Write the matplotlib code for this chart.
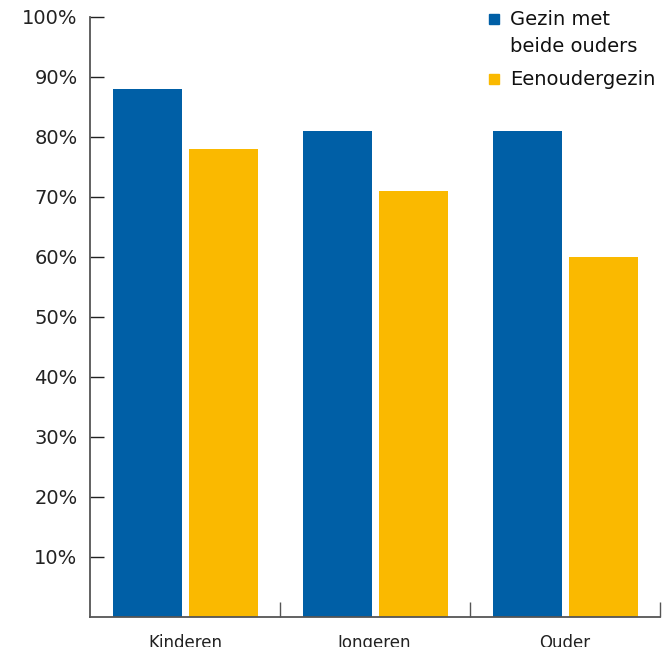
import matplotlib.pyplot as plt
import matplotlib.patches as mpatches
import numpy as np

categories = ["Kinderen", "Jongeren", "Ouder"]
both_parents = [88, 81, 81]
single_parent = [78, 71, 60]
series_names = ["Gezin met\nbeide ouders", "Eenoudergezin"]
y_ticks = [10, 20, 30, 40, 50, 60, 70, 80, 90, 100]

blue = "#005FA6"
yellow = "#FAB900"
axis_col = "#555555"

plt.rcParams["font.family"] = "DejaVu Sans"

fig = plt.figure(figsize=(6.66, 6.47), dpi=100)
ax = fig.add_axes([90 / 666, 30 / 647, 570 / 666, 600 / 647])

x = np.arange(len(categories))
w = 0.363
ax.bar(x + 0.3026, both_parents, w, color=blue)
ax.bar(x + 0.7026, single_parent, w, color=yellow)

ax.set_xlim(0, 3)
ax.set_ylim(0, 100)

ax.set_yticks(y_ticks)
ax.set_yticklabels([f"{v}%" for v in y_ticks], fontsize=14, color="#222222")
ax.tick_params(axis="y", direction="in", length=10, width=1, color="#222222", pad=9)

# group labels in the middle, boundary ticks between groups
ax.set_xticks(x + 0.5)
ax.set_xticklabels(categories, fontsize=12, color="#222222")
ax.tick_params(axis="x", which="major", length=0, pad=12)
ax.set_xticks([1, 2, 3], minor=True)
ax.tick_params(axis="x", which="minor", direction="in", length=11, width=1, color=axis_col)

for side in ["top", "right"]:
    ax.spines[side].set_visible(False)
for side in ["left", "bottom"]:
    ax.spines[side].set_color(axis_col)
    ax.spines[side].set_linewidth(1.3)

# legend: square beside the first line of each entry
W, H = 666, 647
entries = [(series_names[0], blue, 19), (series_names[1], yellow, 79)]
for name, col, ymid in entries:
    fig.patches.append(mpatches.Rectangle((489 / W, 1 - (ymid + 5) / H), 10 / W, 10 / H,
                                          color=col, transform=fig.transFigure))
    fig.text(510 / W, 1 - (ymid - 9) / H, name, fontsize=14, color="#111111",
             va="top", ha="left", linespacing=1.5)

fig.savefig("out.png", dpi=100)
